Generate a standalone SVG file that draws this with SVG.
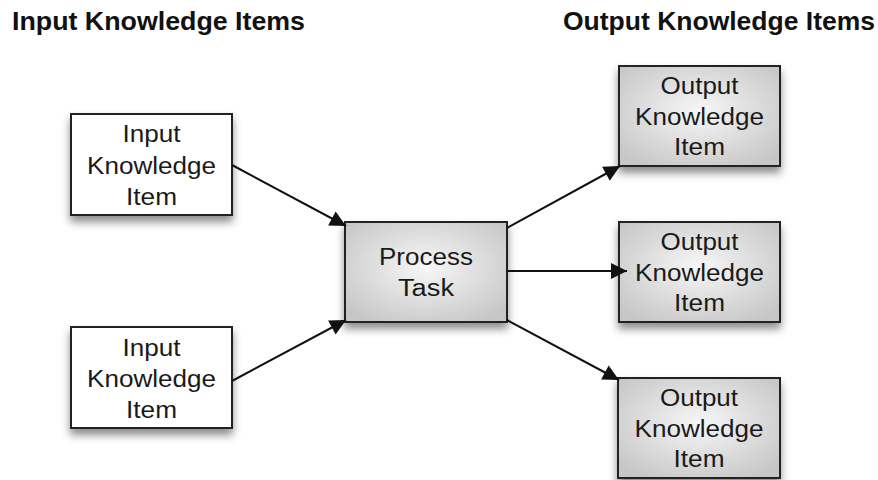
<svg xmlns="http://www.w3.org/2000/svg" width="878" height="480" viewBox="0 0 878 480">
<style>
.title{font-family:"Liberation Sans",Arial,sans-serif;font-weight:bold;font-size:25px;fill:#111}
.lbl{font-family:"Liberation Sans",Arial,sans-serif;font-size:23px;fill:#1a1a1a;text-anchor:middle}
.box{stroke:#222;stroke-width:2;filter:url(#sh)}
.white{fill:#fff}
.grey{fill:url(#rg)}
.conn{stroke:#111;stroke-width:2;fill:none;marker-end:url(#ah)}
</style>
<defs>
<radialGradient id="rg" cx="50%" cy="45%" r="65%">
<stop offset="0" stop-color="#f7f7f7"/>
<stop offset="1" stop-color="#c6c6c6"/>
</radialGradient>
<filter id="sh" x="-20%" y="-20%" width="140%" height="150%">
<feDropShadow dx="0" dy="6" stdDeviation="4" flood-color="#000" flood-opacity="0.45"/>
</filter>
<marker id="ah" viewBox="0 0 10 10" refX="10" refY="5" markerWidth="21" markerHeight="16" orient="auto" markerUnits="userSpaceOnUse">
<path d="M0,0 L10,5 L0,10 z" fill="#111"/>
</marker>
</defs>
<text class="title" x="12" y="30" textLength="293" lengthAdjust="spacingAndGlyphs">Input Knowledge Items</text>
<text class="title" x="563" y="30" textLength="312" lengthAdjust="spacingAndGlyphs">Output Knowledge Items</text>
<g id="in1">
<rect class="box white" x="71" y="114" width="161" height="101"/>
<text class="lbl" x="151.5" y="142" textLength="58" lengthAdjust="spacingAndGlyphs">Input</text>
<text class="lbl" x="151.5" y="174" textLength="129" lengthAdjust="spacingAndGlyphs">Knowledge</text>
<text class="lbl" x="151.5" y="205" textLength="51" lengthAdjust="spacingAndGlyphs">Item</text>
</g>
<g id="in2">
<rect class="box white" x="71" y="327" width="161" height="101"/>
<text class="lbl" x="151.5" y="356" textLength="58" lengthAdjust="spacingAndGlyphs">Input</text>
<text class="lbl" x="151.5" y="387" textLength="129" lengthAdjust="spacingAndGlyphs">Knowledge</text>
<text class="lbl" x="151.5" y="418" textLength="51" lengthAdjust="spacingAndGlyphs">Item</text>
</g>
<g id="process">
<rect class="box grey" x="345" y="222" width="162" height="100"/>
<text class="lbl" x="426" y="265" textLength="94" lengthAdjust="spacingAndGlyphs">Process</text>
<text class="lbl" x="426" y="296" textLength="56" lengthAdjust="spacingAndGlyphs">Task</text>
</g>
<g id="out1">
<rect class="box grey" x="619" y="66" width="161" height="100"/>
<text class="lbl" x="699.5" y="94" textLength="78" lengthAdjust="spacingAndGlyphs">Output</text>
<text class="lbl" x="699.5" y="125" textLength="129" lengthAdjust="spacingAndGlyphs">Knowledge</text>
<text class="lbl" x="699.5" y="155" textLength="51" lengthAdjust="spacingAndGlyphs">Item</text>
</g>
<g id="out2">
<rect class="box grey" x="619" y="222" width="161" height="100"/>
<text class="lbl" x="699.5" y="250" textLength="78" lengthAdjust="spacingAndGlyphs">Output</text>
<text class="lbl" x="699.5" y="281" textLength="129" lengthAdjust="spacingAndGlyphs">Knowledge</text>
<text class="lbl" x="699.5" y="311" textLength="51" lengthAdjust="spacingAndGlyphs">Item</text>
</g>
<g id="out3">
<rect class="box grey" x="618" y="378" width="162" height="100"/>
<text class="lbl" x="699" y="406" textLength="78" lengthAdjust="spacingAndGlyphs">Output</text>
<text class="lbl" x="699" y="437" textLength="129" lengthAdjust="spacingAndGlyphs">Knowledge</text>
<text class="lbl" x="699" y="467" textLength="51" lengthAdjust="spacingAndGlyphs">Item</text>
</g>
<g id="connectors">
<line class="conn" x1="232" y1="165" x2="346" y2="226"/>
<line class="conn" x1="232" y1="381" x2="346" y2="320"/>
<line class="conn" x1="507" y1="228" x2="620" y2="166"/>
<line class="conn" x1="507" y1="271" x2="627" y2="271"/>
<line class="conn" x1="507" y1="320" x2="619" y2="380"/>
</g>
</svg>
